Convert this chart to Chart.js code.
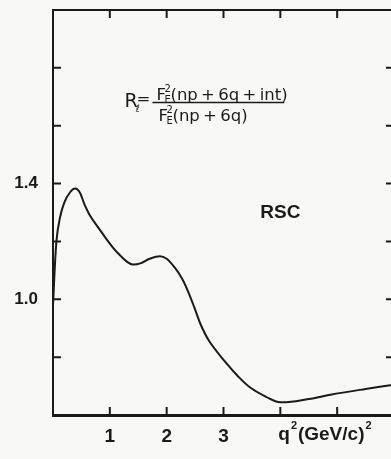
<!DOCTYPE html>
<html>
<head>
<meta charset="utf-8">
<script src="https://cdn.jsdelivr.net/npm/chart.js@4"></script>
<style>
  html, body { margin: 0; padding: 0; background: #f8f8f6; overflow: hidden; }
  #wrap { width: 397px; height: 459px; position: relative; }
</style>
</head>
<body>
<div id="wrap"><canvas id="chart"></canvas></div>
<script>
// Data
const qSquared = [0, 0.06, 0.12, 0.2, 0.3, 0.39, 0.47, 0.55, 0.65, 0.8, 0.96, 1.1, 1.19, 1.3, 1.4, 1.55, 1.7, 1.88, 2.0, 2.14, 2.26, 2.37, 2.49, 2.6, 2.75, 3.02, 3.25, 3.47, 3.75, 4.0, 4.5, 4.88, 5.5, 6.0];
const ratioRSC = [0.98, 1.2, 1.28, 1.335, 1.37, 1.383, 1.37, 1.33, 1.29, 1.247, 1.203, 1.168, 1.15, 1.13, 1.12, 1.125, 1.14, 1.149, 1.14, 1.11, 1.075, 1.03, 0.97, 0.912, 0.855, 0.786, 0.735, 0.695, 0.663, 0.644, 0.655, 0.67, 0.69, 0.705];

const xTicks = [1, 2, 3, 4, 5];
const xLabels = [1, 2, 3];
const yTicks = [0.8, 1.0, 1.2, 1.4, 1.6, 1.8];
const yLabels = [1.0, 1.4];

const ink = '#1a1a1a';
const sans = '"Liberation Sans", Arial, sans-serif';
const mathFont = '"DejaVu Sans", sans-serif';

// Inward ticks on all four sides, plus annotations
const decorations = {
  id: 'decorations',
  afterDraw(chart) {
    const { ctx, chartArea: a, scales } = chart;
    const xs = scales.x, ys = scales.y;
    ctx.save();
    ctx.strokeStyle = ink;
    ctx.lineWidth = 2;
    // top and right borders
    ctx.beginPath();
    ctx.moveTo(a.left, a.top); ctx.lineTo(a.right, a.top); ctx.lineTo(a.right, a.bottom);
    ctx.stroke();
    const len = 8;
    ctx.beginPath();
    xTicks.forEach(v => {
      const px = xs.getPixelForValue(v);
      ctx.moveTo(px, a.bottom); ctx.lineTo(px, a.bottom - len);
      ctx.moveTo(px, a.top); ctx.lineTo(px, a.top + len);
    });
    yTicks.forEach(v => {
      const py = ys.getPixelForValue(v);
      ctx.moveTo(a.left, py); ctx.lineTo(a.left + len, py);
      ctx.moveTo(a.right, py); ctx.lineTo(a.right - len, py);
    });
    ctx.stroke();

    ctx.fillStyle = ink;
    ctx.textBaseline = 'alphabetic';
    // x axis title
    const big = 'bold 19px ' + sans;
    const sup = 'bold 11px ' + sans;
    ctx.textAlign = 'left';
    let tx = xs.getPixelForValue(4.0) - 2;
    const ty = a.bottom + 25;
    ctx.font = big;
    ctx.fillText('q', tx, ty); tx += ctx.measureText('q').width;
    ctx.font = sup;
    ctx.fillText('2', tx + 1, ty - 11); tx += 8;
    ctx.font = big;
    ctx.fillText('(GeV/c)', tx, ty); tx += ctx.measureText('(GeV/c)').width;
    ctx.font = sup;
    ctx.fillText('2', tx + 1, ty - 11);

    // RSC label
    ctx.font = 'bold 19px ' + sans;
    ctx.textAlign = 'center';
    ctx.textBaseline = 'middle';
    ctx.fillText('RSC', xs.getPixelForValue(4.0), ys.getPixelForValue(1.3));

    // Formula
    const f = '16.5px ' + mathFont;
    const fs = '10px ' + mathFont;
    ctx.textAlign = 'left';
    ctx.textBaseline = 'alphabetic';
    const barY = ys.getPixelForValue(1.68);
    const rx = xs.getPixelForValue(1.26);
    ctx.font = '19px ' + mathFont;
    ctx.fillText('R', rx, barY + 4);
    ctx.font = fs;
    ctx.fillText('ℓ', rx + 11, barY + 9);
    ctx.font = f;
    ctx.fillText('=', rx + 12, barY + 1);
    const bx0 = xs.getPixelForValue(1.75), bx1 = xs.getPixelForValue(4.07);
    ctx.lineWidth = 1.5;
    ctx.beginPath(); ctx.moveTo(bx0, barY); ctx.lineTo(bx1, barY); ctx.stroke();
    const drawF = (x, base, rest) => {
      ctx.font = f;
      ctx.fillText('F', x, base);
      ctx.font = fs;
      ctx.fillText('2', x + 8, base - 8);
      ctx.fillText('E', x + 8, base + 3);
      ctx.font = f;
      ctx.fillText(rest, x + 14, base);
    };
    drawF(bx0 + 4, barY - 3, '(np\u2009+\u20096q\u2009+\u2009int)');
    drawF(bx0 + 6, barY + 18, '(np\u2009+\u20096q)');
    ctx.restore();
  }
};

new Chart(document.getElementById('chart'), {
  type: 'line',
  data: {
    datasets: [{
      label: 'RSC',
      data: qSquared.map((q, i) => ({ x: q, y: ratioRSC[i] })),
      borderColor: ink,
      borderWidth: 2,
      pointRadius: 0,
      fill: false,
      tension: 0.35
    }]
  },
  options: {
    responsive: true,
    maintainAspectRatio: false,
    animation: false,
    layout: { padding: { top: 10, right: 3, left: 0, bottom: 0 } },
    plugins: { legend: { display: false }, tooltip: { enabled: false } },
    scales: {
      x: {
        type: 'linear',
        min: 0,
        max: 6.0,
        grid: { display: false },
        border: { display: true, color: ink, width: 3 },
        afterBuildTicks: s => { s.ticks = xLabels.map(v => ({ value: v })); },
        afterFit: s => { s.height = 44; s.paddingLeft = 0; s.paddingRight = 0; },
        ticks: {
          color: ink,
          font: { family: sans, size: 19, weight: 'bold' },
          padding: 2,
          maxRotation: 0,
          callback: v => String(v)
        }
      },
      y: {
        type: 'linear',
        min: 0.6,
        max: 2.0,
        grid: { display: false },
        border: { display: true, color: ink, width: 2 },
        afterBuildTicks: s => { s.ticks = yLabels.map(v => ({ value: v })); },
        afterFit: s => { s.width = 53; s.paddingTop = 0; s.paddingBottom = 0; },
        ticks: {
          color: ink,
          font: { family: sans, size: 17, weight: 'bold' },
          padding: 7,
          callback: v => v.toFixed(1)
        }
      }
    }
  },
  plugins: [decorations]
});
</script>
</body>
</html>
